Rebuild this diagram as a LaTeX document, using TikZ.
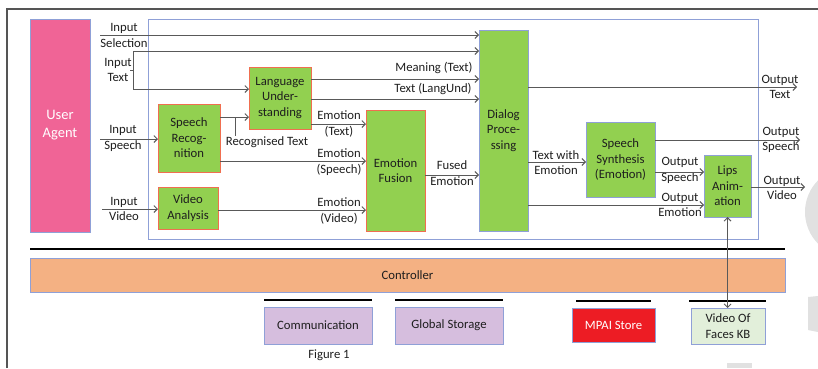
\documentclass[tikz,border=0pt]{standalone}
\usepackage{fontspec}
\setmainfont{Carlito}
\usetikzlibrary{arrows.meta}
\definecolor{uapink}{RGB}{240,100,150}
\definecolor{mgreen}{RGB}{146,208,80}
\definecolor{redborder}{RGB}{240,110,80}
\definecolor{blueborder}{RGB}{143,160,215}
\definecolor{ctrlorange}{RGB}{244,177,131}
\definecolor{lavender}{RGB}{214,190,222}
\definecolor{mpaired}{RGB}{237,28,36}
\definecolor{kbgreen}{RGB}{226,239,218}
\definecolor{linegray}{RGB}{89,89,89}
\definecolor{framegray}{RGB}{85,85,85}
\definecolor{junkgray}{RGB}{225,225,225}
\definecolor{textdark}{RGB}{30,30,30}
\begin{document}
\begin{tikzpicture}[x=1pt,y=-1pt,
  font=\fontsize{12.7}{15.5}\selectfont, text=textdark,
  arr/.style={draw=linegray, line width=0.9pt, -{Straight Barb[length=3.5pt,width=7pt]}},
  plain/.style={draw=linegray, line width=0.9pt},
  box/.style={line width=1pt, inner sep=0pt, outer sep=0pt, align=center},
  gbox/.style={box, fill=mgreen, draw=redborder},
  bbox/.style={box, fill=mgreen, draw=blueborder},
  lbl/.style={align=center, inner sep=0pt},
  bar/.style={draw=black, line width=2pt}]
\useasboundingbox (0,0) rectangle (818,368);
% background artefacts
\fill[junkgray] (850,212) circle (45);
\fill[junkgray] (808,297) -- (818,296) -- (818,332) -- (808,330) -- cycle;
\fill[junkgray] (727,363) rectangle (752,368);
% outer frame
\draw[framegray, line width=1.5pt] (7,368) -- (7,9) -- (818,9);
% inner frame
\draw[blueborder, line width=1pt] (148,19) rectangle (758,239);
% boxes
\node[box, fill=uapink, draw=blueborder, minimum width=60pt, minimum height=213pt, text=white, font=\fontsize{14.5}{18}\selectfont] (ua) at (60,125.5) {User\\Agent};
\node[bbox, minimum width=49pt, minimum height=201pt] (dp) at (503.5,130.5) {Dialog\\Proce-\\ssing};
\node[gbox, minimum width=62pt, minimum height=62pt] (lu) at (280,98) {Language\\Under-\\standing};
\node[gbox, minimum width=62pt, minimum height=68pt] (sr) at (189,138) {Speech\\Recog-\\nition};
\node[gbox, minimum width=60pt, minimum height=42pt] (va) at (188,208) {Video\\Analysis};
\node[gbox, minimum width=59pt, minimum height=121pt] (ef) at (395.5,170.5) {Emotion\\Fusion};
\node[bbox, minimum width=69pt, minimum height=75pt] (ss) at (620.5,159.5) {Speech\\Synthesis\\(Emotion)};
\node[bbox, minimum width=47pt, minimum height=62pt] (la) at (727.5,186) {Lips\\Anim-\\ation};
\node[box, fill=ctrlorange, draw=blueborder, minimum width=755pt, minimum height=34pt] (ctrl) at (407.5,275) {Controller};
\node[box, fill=lavender, draw=blueborder, minimum width=108pt, minimum height=37pt] (comm) at (318,325.5) {Communication};
\node[box, fill=lavender, draw=blueborder, minimum width=108pt, minimum height=37pt] (gs) at (449,325.5) {Global Storage};
\node[box, fill=mpaired, draw=blueborder, minimum width=83pt, minimum height=34pt, text=white] (mpai) at (613.5,325) {MPAI Store};
\node[box, fill=kbgreen, draw=blueborder, minimum width=74pt, minimum height=36pt] (kb) at (728,326) {Video Of\\Faces KB};
% black bars
\draw[bar] (30,249) -- (785,249);
\draw[bar] (264,300) -- (372,300);
\draw[bar] (395,300) -- (503,300);
\draw[bar] (576,301) -- (651,301);
\draw[bar] (689,301) -- (766,301);
% labels
\node[lbl] (lSel) at (124,35.5) {Input\\Selection};
\node[lbl] (lText) at (118,70) {Input\\Text};
\node[lbl] (lSpeech) at (123,138.5) {Input\\Speech};
\node[lbl] (lVideo) at (124,209) {Input\\Video};
\node[lbl] (lMean) at (434,68) {Meaning (Text)};
\node[lbl] (lTLU) at (433,89) {Text (LangUnd)};
\node[lbl] (lEmT) at (339,124) {Emotion\\(Text)};
\node[lbl] (lEmS) at (339,162) {Emotion\\(Speech)};
\node[lbl] (lEmV) at (339,211) {Emotion\\(Video)};
\node[lbl] (lRec) at (267,142) {Recognised Text};
\node[lbl] (lFused) at (452,173) {Fused\\Emotion};
\node[lbl] (lTwE) at (556,162.5) {Text with\\Emotion};
\node[lbl] (lOT) at (780,87) {Output\\Text};
\node[lbl] (lOS) at (781,140) {Output\\Speech};
\node[lbl] (lOV) at (782,188) {Output\\Video};
\node[lbl] (lOS2) at (680,170.5) {Output\\Speech};
\node[lbl] (lOE) at (680,205) {Output\\Emotion};
\node[lbl] (fig) at (329,355) {Figure 1};
% free ends
\coordinate (inSel) at (100,35);
\coordinate (itTop) at (133,51);
\coordinate (itBot) at (133,89);
\coordinate (itTick) at (130,70);
\coordinate (inSp) at (100,139);
\coordinate (inVid) at (102,209);
\coordinate (recTop) at (235,117);
\coordinate (outT) at (797,87);
\coordinate (outS) at (800,140);
\coordinate (outV) at (805,187);
% connectors
\draw[arr] (inSel) -- (dp.west |- inSel);
\draw[plain] (itTop) -- (itBot);
\draw[plain] (itTick) -- (itTick -| itTop);
\draw[arr] (itTop) -- (dp.west |- itTop);
\draw[arr] (itBot) -- (lu.west |- itBot);
\draw[arr] (inSp) -- (sr.west |- inSp);
\draw[arr] (inVid) -- (va.west |- inVid);
\draw[arr] (sr.east |- recTop) -- (lu.west |- recTop);
\draw[plain] (recTop) -- (recTop |- lRec.north);
\draw[arr] (lu.east |- 0,79) -- (dp.west |- 0,79);
\draw[arr] (lu.east |- 0,99) -- (dp.west |- 0,99);
\draw[arr] (lu.east |- 0,124) -- (ef.west |- 0,124);
\draw[arr] (sr.east |- 0,161) -- (ef.west |- 0,161);
\draw[arr] (va.east |- 0,210) -- (ef.west |- 0,210);
\draw[arr] (ef.east |- 0,175) -- (dp.west |- 0,175);
\draw[arr] (dp.east |- outT) -- (outT);
\draw[arr] (dp.east |- 0,162) -- (ss.west |- 0,162);
\draw[arr] (dp.east |- 0,205) -- (la.west |- 0,205);
\draw[arr] (ss.east |- outS) -- (outS);
\draw[arr] (ss.east |- 0,172) -- (la.west |- 0,172);
\draw[arr] (la.east |- outV) -- (outV);
\draw[draw=linegray, line width=0.9pt, {Straight Barb[length=3.5pt,width=7pt]}-{Straight Barb[length=3.5pt,width=7pt]}] (la.south) -- (la.south |- kb.north);
\end{tikzpicture}
\end{document}
